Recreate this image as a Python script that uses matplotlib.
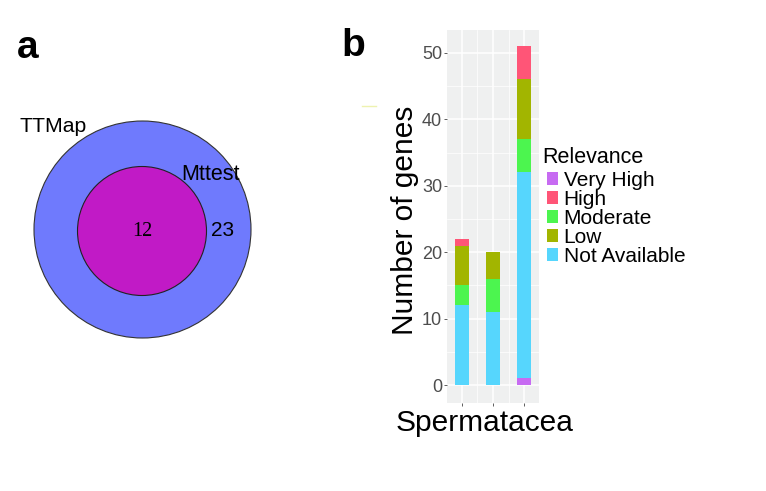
import matplotlib
matplotlib.use("Agg")
import matplotlib.pyplot as plt
from matplotlib.patches import Circle, Patch
import numpy as np

plt.rcParams['font.family'] = ['Liberation Sans', 'DejaVu Sans']

# ---- data ----
venn_sets = ["TTMap", "Mttest"]
venn_only_outer = 23
venn_overlap = 12

groups = ["1", "2", "3"]
levels = ["Very High", "High", "Moderate", "Low", "Not Available"]
colors = {"Very High": "#C76BF2", "High": "#FF5577", "Moderate": "#4CF54F",
          "Low": "#A2B500", "Not Available": "#56D6FD"}
# stacking order bottom -> top
stack_order = ["Very High", "Not Available", "Moderate", "Low", "High"]
values = {
    "Very High":     [0, 0, 1],
    "Not Available": [12, 11, 31],
    "Moderate":      [3, 5, 5],
    "Low":           [6, 4, 9],
    "High":          [1, 0, 5],
}
yticks = [0, 10, 20, 30, 40, 50]

W, H = 766, 491
fig = plt.figure(figsize=(W / 100, H / 100), dpi=100)

# ---- panel a : Venn ----
axv = fig.add_axes([0, 0, 1, 1])
axv.set_xlim(0, W)
axv.set_ylim(H, 0)
axv.axis('off')
axv.add_patch(Circle((142.5, 229.5), 108.5, facecolor="#6F7AFD", edgecolor="#333333", lw=0.8))
axv.add_patch(Circle((142, 231), 64.5, facecolor="#C11AC6", edgecolor="#222222", lw=0.8))
axv.text(19, 126, venn_sets[0], fontsize=15.3, ha='left', va='center')
axv.text(181, 174, venn_sets[1], fontsize=15.5, ha='left', va='center')
axv.text(142, 231, str(venn_overlap), fontsize=14.5, ha='center', va='center',
         family=['Liberation Serif', 'DejaVu Serif'])
axv.text(211, 231, str(venn_only_outer), fontsize=15, ha='left', va='center')
axv.text(17, 48, "a", fontsize=28, fontweight='bold', ha='left', va='center')
axv.text(341, 46, "b", fontsize=28, fontweight='bold', ha='left', va='center')
axv.plot([362, 376], [106, 106], color="#EEF2B0", lw=1)

# ---- panel b : stacked bars ----
ax = fig.add_axes([447 / W, 1 - 403 / H, 92 / W, 373 / H])
ax.set_facecolor("#EFF0F0")
x = np.arange(1, len(groups) + 1)
bottom = np.zeros(len(groups))
for lev in stack_order:
    v = np.array(values[lev], dtype=float)
    ax.bar(x, v, bottom=bottom, width=0.45, color=colors[lev], edgecolor='none', zorder=3)
    bottom += v
ax.set_xlim(0.52, 3.48)
ax.set_ylim(-2.7, 53.45)
ax.set_yticks(yticks)
ax.set_yticks([5, 15, 25, 35, 45], minor=True)
ax.set_xticks(x)
ax.set_xticks([1.5, 2.5], minor=True)
ax.set_xticklabels(["", "", ""])
ax.grid(True, which='major', color='white', lw=1.1, zorder=0)
ax.grid(True, which='minor', color='white', lw=0.5, zorder=0)
ax.tick_params(axis='both', which='major', length=2.5, width=0.6, color='#444444',
               labelsize=13, labelcolor='#4D4D4D', pad=1)
ax.tick_params(axis='both', which='minor', length=0)
for s in ax.spines.values():
    s.set_visible(False)
ax.set_ylabel("Number of genes", fontsize=21.5)
ax.yaxis.set_label_coords(-0.30, 0.49)
ax.set_xlabel("Spermatacea", fontsize=21.5)
ax.xaxis.set_label_coords(0.41, -0.016)

fig.text(542 / W, 1 - 157 / H, "Relevance", fontsize=15.5, ha='left', va='center')
handles = [Patch(facecolor=colors[l], edgecolor='none') for l in levels]
leg = fig.legend(handles, levels, loc='upper left',
                 bbox_to_anchor=(547 / W, 1 - 171 / H), frameon=False,
                 fontsize=15, handlelength=0.55, handleheight=0.55,
                 handletextpad=0.25, labelspacing=0.0, borderpad=0, borderaxespad=0)

fig.savefig("out.png", dpi=100)
